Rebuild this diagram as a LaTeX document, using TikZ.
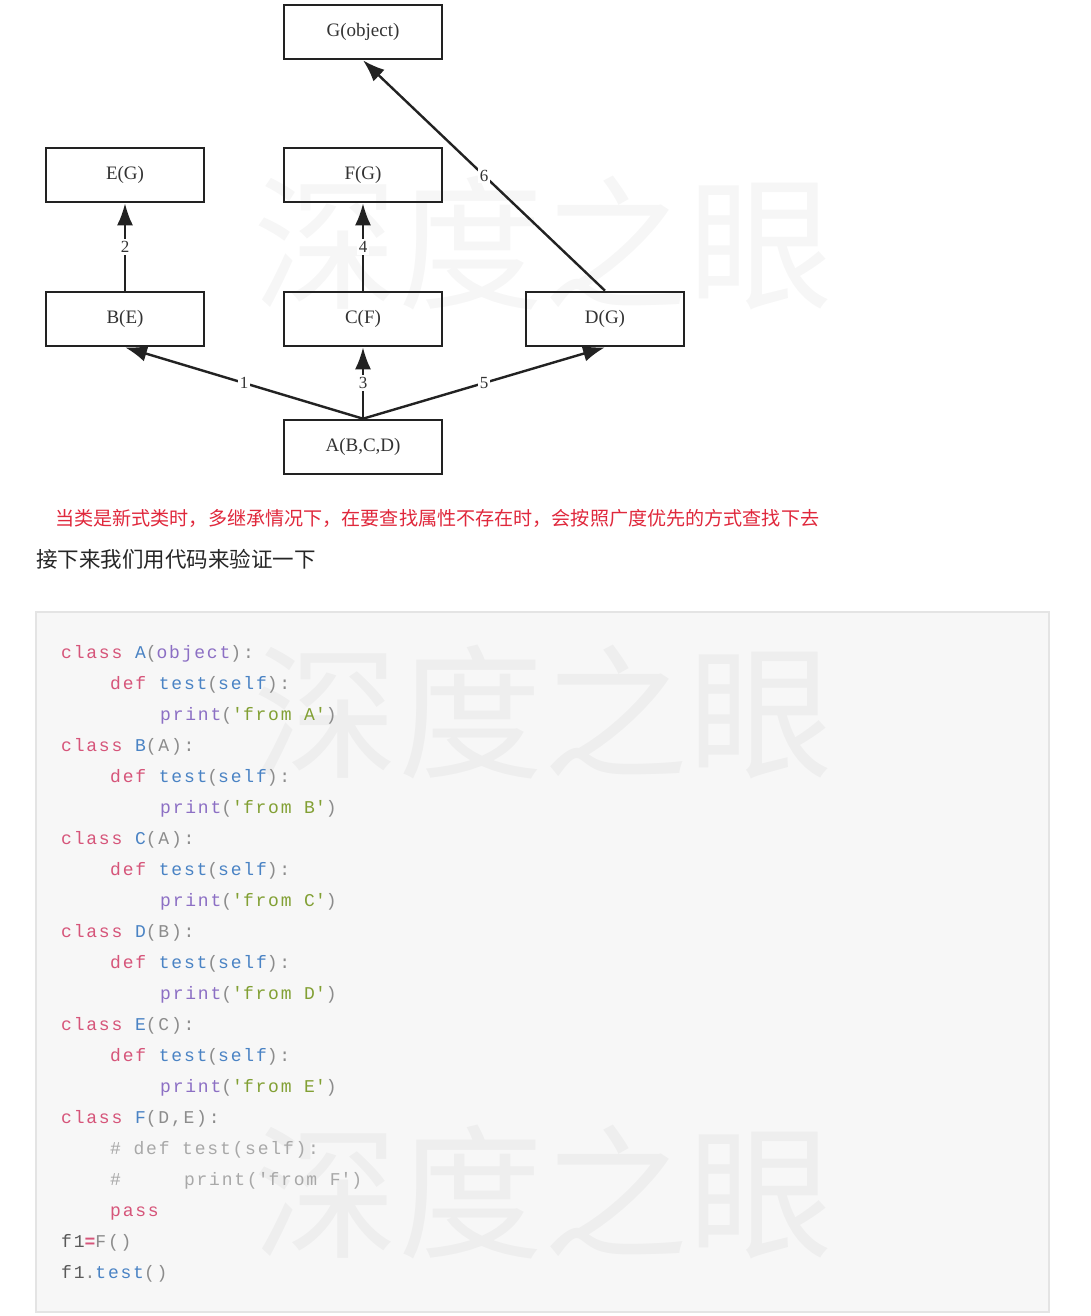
\documentclass[tikz,border=0pt]{standalone}
\usepackage{fontspec}
\setmainfont{Liberation Serif}
\newfontfamily\cjk{Noto Sans CJK SC}
\newfontfamily\codefont[LetterSpace=10]{Liberation Mono}
\usepackage{tikz}
\usetikzlibrary{arrows.meta}
\pgfdeclarelayer{bglayer}
\pgfdeclarelayer{edgelayer}
\pgfdeclarelayer{nodelayer}
\pgfsetlayers{bglayer,edgelayer,nodelayer,main}
\definecolor{boxline}{HTML}{222222}
\definecolor{labeltext}{HTML}{333333}
\definecolor{notered}{HTML}{E0283C}
\definecolor{codebg}{HTML}{F7F7F7}
\definecolor{codeedge}{HTML}{E4E4E4}
\definecolor{kwred}{HTML}{D6557A}
\definecolor{nameblue}{HTML}{4A83C4}
\definecolor{builtinpurple}{HTML}{8C6FC4}
\definecolor{strgreen}{HTML}{82A034}
\definecolor{punctgray}{HTML}{8C8C8C}
\definecolor{commentgray}{HTML}{A8A8A8}
\definecolor{plaingray}{HTML}{5A5A5A}
\tikzstyle{none}=[inner sep=0pt]
\tikzstyle{classbox}=[rectangle,draw=boxline,line width=2.6,minimum width=158,minimum height=54,text=labeltext,font=\fontsize{19}{19}\selectfont]
\tikzstyle{inarrow}=[-{Latex[length=22pt,width=16pt]},draw=boxline,line width=2.4]
\tikzstyle{edgelabel}=[fill=white,inner sep=2,text=labeltext,font=\fontsize{17}{17}\selectfont]
\tikzstyle{codeline}=[anchor=base west,inner sep=0pt,font=\codefont\fontsize{18}{18}\selectfont]
\tikzstyle{watermark}=[inner sep=0pt,text=black,text opacity=0.035,font=\cjk\fontsize{145}{145}\selectfont]
\newcommand{\ckw}[1]{\textcolor{kwred}{#1}}
\newcommand{\cnm}[1]{\textcolor{nameblue}{#1}}
\newcommand{\cbi}[1]{\textcolor{builtinpurple}{#1}}
\newcommand{\cstr}[1]{\textcolor{strgreen}{#1}}
\newcommand{\cpu}[1]{\textcolor{punctgray}{#1}}
\newcommand{\ccm}[1]{\textcolor{commentgray}{#1}}
\newcommand{\cpl}[1]{\textcolor{plaingray}{#1}}
\newcommand{\cq}{\textquotesingle}
\begin{document}
\begin{tikzpicture}[x=1pt,y=-1pt]
	\useasboundingbox (0,0) rectangle (1090,1316);
	\begin{pgfonlayer}{bglayer}
		\fill [white] (0,0) rectangle (1090,1316);
		\filldraw [fill=codebg,draw=codeedge,line width=1.5] (36,612) rectangle (1049,1312);
		\node [style=watermark] (wm1) at (543,243) {深度之眼};
		\node [style=watermark] (wm2) at (543,712) {深度之眼};
		\node [style=watermark] (wm3) at (543,1192) {深度之眼};
	\end{pgfonlayer}
	\begin{pgfonlayer}{nodelayer}
		\node [style=classbox] (G) at (363, 32) {G(object)};
		\node [style=classbox] (E) at (125, 175) {E(G)};
		\node [style=classbox] (F) at (363, 175) {F(G)};
		\node [style=classbox] (B) at (125, 319) {B(E)};
		\node [style=classbox] (C) at (363, 319) {C(F)};
		\node [style=classbox] (D) at (605, 319) {D(G)};
		\node [style=classbox] (A) at (363, 447) {A(B,C,D)};

		\node [style=none,anchor=west,text=notered,font=\cjk\fontsize{19.1}{20}\selectfont] (rule) at (55, 518) {当类是新式类时，多继承情况下，在要查找属性不存在时，会按照广度优先的方式查找下去};
		\node [style=none,anchor=west,text=black!85,font=\cjk\fontsize{21.5}{22}\selectfont] (intro) at (36, 559) {接下来我们用代码来验证一下};

		\node [style=codeline] (l1) at (61, 658) {\ckw{class} \cnm{A}\cpu{(}\cbi{object}\cpu{):}};
		\node [style=codeline] (l2) at (110, 689) {\ckw{def} \cnm{test}\cpu{(}\cnm{self}\cpu{):}};
		\node [style=codeline] (l3) at (160, 720) {\cbi{print}\cpu{(}\cstr{\cq{}from A\cq}\cpu{)}};
		\node [style=codeline] (l4) at (61, 751) {\ckw{class} \cnm{B}\cpu{(A):}};
		\node [style=codeline] (l5) at (110, 782) {\ckw{def} \cnm{test}\cpu{(}\cnm{self}\cpu{):}};
		\node [style=codeline] (l6) at (160, 813) {\cbi{print}\cpu{(}\cstr{\cq{}from B\cq}\cpu{)}};
		\node [style=codeline] (l7) at (61, 844) {\ckw{class} \cnm{C}\cpu{(A):}};
		\node [style=codeline] (l8) at (110, 875) {\ckw{def} \cnm{test}\cpu{(}\cnm{self}\cpu{):}};
		\node [style=codeline] (l9) at (160, 906) {\cbi{print}\cpu{(}\cstr{\cq{}from C\cq}\cpu{)}};
		\node [style=codeline] (l10) at (61, 937) {\ckw{class} \cnm{D}\cpu{(B):}};
		\node [style=codeline] (l11) at (110, 968) {\ckw{def} \cnm{test}\cpu{(}\cnm{self}\cpu{):}};
		\node [style=codeline] (l12) at (160, 999) {\cbi{print}\cpu{(}\cstr{\cq{}from D\cq}\cpu{)}};
		\node [style=codeline] (l13) at (61, 1030) {\ckw{class} \cnm{E}\cpu{(C):}};
		\node [style=codeline] (l14) at (110, 1061) {\ckw{def} \cnm{test}\cpu{(}\cnm{self}\cpu{):}};
		\node [style=codeline] (l15) at (160, 1092) {\cbi{print}\cpu{(}\cstr{\cq{}from E\cq}\cpu{)}};
		\node [style=codeline] (l16) at (61, 1123) {\ckw{class} \cnm{F}\cpu{(D,E):}};
		\node [style=codeline] (l17) at (110, 1154) {\ccm{\# def test(self):}};
		\node [style=codeline] (l18) at (110, 1185) {\ccm{\#\ \ \ \ \ print(\cq{}from F\cq)}};
		\node [style=codeline] (l19) at (110, 1216) {\ckw{pass}};
		\node [style=codeline] (l20) at (61, 1247) {\cpl{f1}\textcolor{kwred}{\bfseries =}\cpu{F()}};
		\node [style=codeline] (l21) at (61, 1278) {\cpl{f1}\cpu{.}\cnm{test}\cpu{()}};
	\end{pgfonlayer}
	\begin{pgfonlayer}{edgelayer}
		\draw [style=inarrow] (A.north) to node [style=edgelabel] {1} (B.south);
		\draw [style=inarrow] (B.north) to node [style=edgelabel] {2} (E.south);
		\draw [style=inarrow] (A.north) to node [style=edgelabel] {3} (C.south);
		\draw [style=inarrow] (C.north) to node [style=edgelabel] {4} (F.south);
		\draw [style=inarrow] (A.north) to node [style=edgelabel] {5} (D.south);
		\draw [style=inarrow] (D.north) to node [style=edgelabel] {6} (G.south);
	\end{pgfonlayer}
\end{tikzpicture}
\end{document}
